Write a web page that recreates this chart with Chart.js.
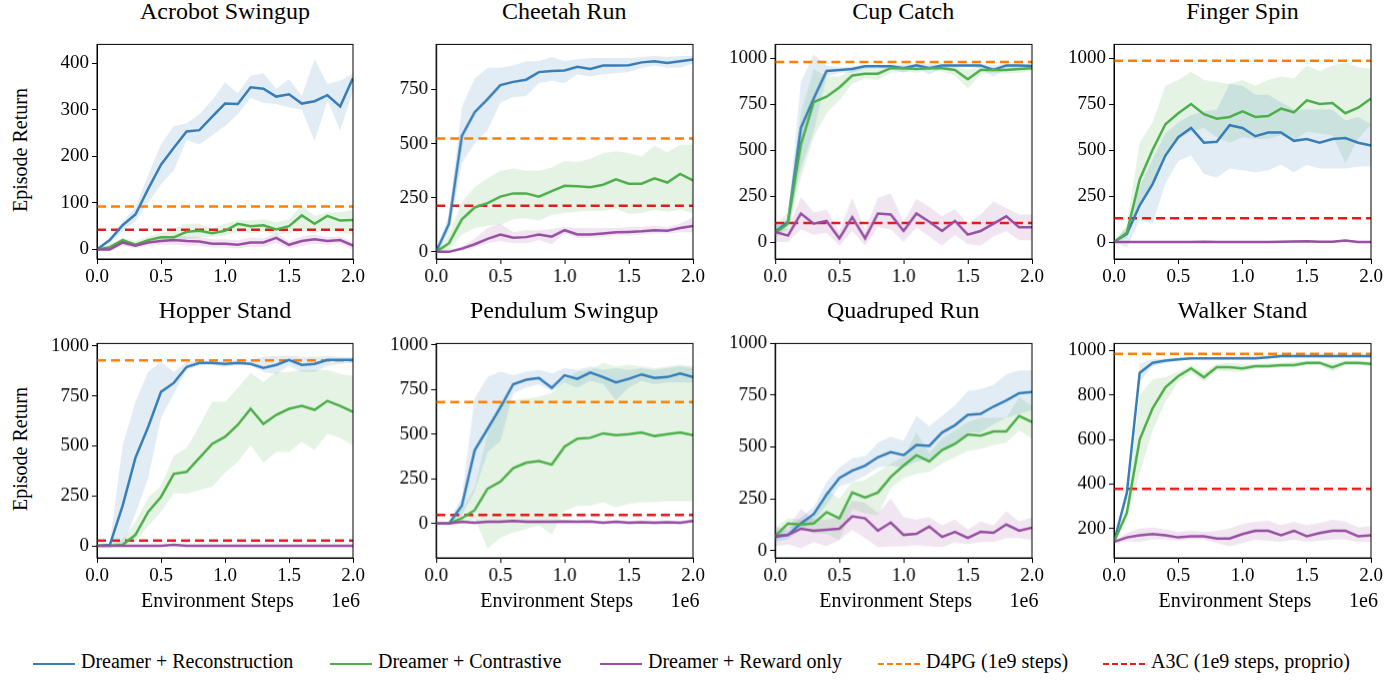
<!DOCTYPE html>
<html><head><meta charset="utf-8">
<script src="https://cdn.jsdelivr.net/npm/chart.js@4"></script>
<style>
body{margin:0;background:#fff;width:1395px;height:682px;position:relative;overflow:hidden;font-family:"Liberation Serif","Times New Roman","DejaVu Serif",serif;}
canvas{position:absolute;}
.t{position:absolute;font-size:24px;text-align:center;white-space:nowrap;transform:translateX(-50%);}
.s{position:absolute;font-size:20px;white-space:nowrap;}
.yl{position:absolute;font-size:20px;white-space:nowrap;transform:translate(-50%,-50%) rotate(-90deg);}
.lg{position:absolute;top:650px;font-size:20px;white-space:nowrap;}
.lg i{position:absolute;top:13px;width:42px;height:0;}
</style></head><body>
<script>
const steps=[0,0.1,0.2,0.3,0.4,0.5,0.6,0.7,0.8,0.9,1.0,1.1,1.2,1.3,1.4,1.5,1.6,1.7,1.8,1.9,2.0];
const xTicks=[0,0.5,1,1.5,2];
const panelTitles=["Acrobot Swingup","Cheetah Run","Cup Catch","Finger Spin","Hopper Stand","Pendulum Swingup","Quadruped Run","Walker Stand"];
const yTicks=[[0,100,200,300,400],[0,250,500,750],[0,250,500,750,1000],[0,250,500,750,1000],[0,250,500,750,1000],[0,250,500,750,1000],[0,250,500,750,1000],[200,400,600,800,1000]];
const yRanges=[[-20.5,440],[-33,958],[-92,1074],[-92,1074],[-60,1012],[-192,1008],[-36,1000],[68,1032]];
const d4pg=[92,523,978,985,928,680,null,985];
const a3c=[42,213,103,130,27,48,null,378];

const acroRec=[0,20,52,75,130,182,218,253,256,285,313,312,348,345,328,333,313,318,331,307,368];
const acroRecLo=[0,15,40,60,100,140,170,235,225,245,265,290,325,315,312,305,300,232,320,255,340];
const acroRecHi=[5,25,60,90,160,225,265,270,290,320,358,335,373,378,345,365,330,408,355,362,378];
const acroCon=[0,5,20,10,20,26,26,38,40,35,40,55,50,52,43,50,73,55,72,62,63];
const acroConLo=[0,2,10,5,12,18,15,22,25,28,30,38,35,38,32,35,40,35,45,35,33];
const acroConHi=[3,10,25,18,28,35,45,55,55,45,55,62,62,65,58,65,95,72,80,80,85];
const acroRew=[0,0,15,8,15,18,20,18,17,12,12,10,15,15,25,10,18,22,18,20,8];
const acroRewLo=[0,-4,8,2,8,10,10,8,8,4,4,2,6,6,14,2,8,12,10,12,0];
const acroRewHi=[2,5,22,14,22,26,30,28,26,22,22,20,25,24,35,18,28,32,26,28,16];

const cheeRec=[0,130,535,645,705,770,785,795,830,835,838,855,845,860,860,862,875,880,872,880,888];
const cheeRecLo=[0,90,410,500,560,690,715,720,780,790,780,820,810,820,825,830,850,860,850,850,870];
const cheeRecHi=[5,170,670,800,850,850,860,880,880,900,880,890,895,895,895,895,900,905,900,905,905];
const cheeCon=[0,40,150,205,225,255,270,270,255,280,305,303,298,310,335,315,315,340,320,360,330];
const cheeConLo=[0,10,80,110,120,125,150,155,145,170,180,185,190,190,200,175,180,195,185,195,180];
const cheeConHi=[5,80,230,300,340,375,385,375,375,390,420,415,430,455,465,455,440,490,460,495,495];
const cheeRew=[0,0,15,35,60,80,65,68,80,70,100,80,80,85,90,92,95,100,98,110,120];
const cheeRewLo=[0,-5,5,20,40,50,40,40,55,35,85,65,65,70,75,75,80,85,85,90,90];
const cheeRewHi=[5,10,25,60,110,130,90,100,100,105,115,110,110,110,110,115,115,120,115,130,160];

const cupRec=[55,110,620,780,930,935,940,955,955,955,945,960,945,960,960,960,960,935,960,960,957];
const cupRecLo=[30,90,400,600,900,920,920,940,945,940,920,950,910,945,950,950,945,900,940,945,945];
const cupRecHi=[80,130,870,1020,960,950,955,965,965,965,965,970,970,970,970,970,970,960,970,970,970];
const cupCon=[50,100,530,760,790,840,905,915,915,945,945,940,945,945,935,885,935,935,935,940,945];
const cupConLo=[20,70,350,570,700,770,860,890,880,920,925,920,935,925,905,835,910,920,915,920,930];
const cupConHi=[100,160,700,940,900,900,935,945,945,960,960,960,960,960,955,935,955,950,955,955,960];
const cupRew=[55,35,155,100,115,20,135,20,155,150,60,155,110,60,115,40,60,100,140,80,80];
const cupRewLo=[0,0,70,40,50,-20,60,-20,80,70,0,80,30,-20,40,-10,-20,30,60,10,10];
const cupRewHi=[110,70,245,160,175,60,240,70,240,265,110,235,190,140,180,100,150,220,185,150,150];

const fingRec=[0,45,200,315,470,570,620,540,545,635,620,575,595,595,550,560,540,560,565,540,525];
const fingRecLo=[0,-30,120,100,320,440,470,370,350,400,390,380,390,420,380,420,400,400,400,410,410];
const fingRecHi=[5,80,300,450,590,650,690,710,720,860,850,800,800,760,720,720,720,720,660,680,640];
const fingCon=[0,50,340,500,640,700,750,695,670,680,710,680,685,725,705,770,750,755,700,730,780];
const fingConLo=[0,20,210,320,480,560,600,620,570,540,570,560,560,580,550,600,590,580,430,560,640];
const fingConHi=[5,90,540,650,850,880,925,880,870,860,880,850,880,900,890,960,930,960,975,950,940];
const fingRew=[0,0,0,0,0,0,0,2,0,0,0,0,0,2,3,5,2,2,8,0,0];
const fingRewLo=[-4,-4,-4,-4,-4,-4,-4,-3,-4,-4,-4,-4,-4,-3,-2,0,-3,-3,2,-4,-4];
const fingRewHi=[4,4,4,4,4,4,4,6,4,4,4,4,4,6,8,10,6,6,14,4,4];

const hopRec=[0,5,200,440,595,770,815,895,915,915,910,915,910,890,905,930,905,910,930,930,930];
const hopRecLo=[0,0,0,160,340,640,760,880,905,905,895,905,905,870,860,900,870,870,900,910,915];
const hopRecHi=[5,10,500,720,870,920,870,920,925,925,925,930,930,945,950,950,945,945,950,945,945];
const hopCon=[0,0,5,55,170,245,360,370,440,510,545,605,685,610,655,685,700,680,725,700,670];
const hopConLo=[0,0,0,20,100,170,265,260,280,295,365,420,505,415,470,470,520,480,560,540,500];
const hopConHi=[0,5,30,120,240,300,450,490,600,720,720,790,865,820,870,870,880,880,880,860,850];
const hopRew=[0,0,0,0,0,0,5,0,0,0,0,0,0,0,0,0,0,0,0,0,0];
const hopRewLo=[0,0,0,0,0,0,0,0,0,0,0,0,0,0,0,0,0,0,0,0,0];
const hopRewHi=[3,3,3,3,3,5,8,4,3,3,3,3,3,3,3,3,3,3,3,3,3];

const penRec=[0,0,100,410,530,650,780,805,815,760,830,810,845,820,790,810,835,815,820,840,820];
const penRecLo=[0,0,50,180,400,460,730,760,780,740,790,760,800,780,690,760,800,780,790,790,790];
const penRecHi=[5,10,150,700,820,850,830,850,860,840,870,860,880,860,870,860,870,860,870,880,870];
const penCon=[0,0,30,75,195,235,310,340,350,330,430,475,480,505,495,500,510,490,500,510,495];
const penConLo=[0,0,0,30,-140,-80,-50,-30,-10,-60,70,100,100,120,90,110,120,120,125,125,125];
const penConHi=[5,10,80,200,500,680,690,700,710,730,810,850,860,900,880,890,880,870,880,890,880];
const penRew=[0,0,10,5,10,10,15,10,10,10,12,10,12,5,10,5,8,5,8,5,15];
const penRewLo=[-3,-5,0,-5,0,0,5,0,-2,0,2,0,2,-5,0,-5,-2,-5,-2,-5,5];
const penRewHi=[3,5,20,15,20,20,25,20,22,20,22,20,22,15,20,15,18,15,18,15,25];

const quadRec=[65,75,130,175,270,350,385,410,450,475,460,510,505,570,605,655,660,695,725,760,765];
const quadRecLo=[40,55,100,140,220,310,330,360,400,410,400,430,440,480,520,570,570,610,640,660,680];
const quadRecHi=[90,100,160,210,330,400,445,455,520,550,530,650,600,650,700,770,780,800,850,870,870];
const quadCon=[70,130,125,130,185,155,280,255,280,355,410,460,430,485,515,560,555,575,575,650,620];
const quadConLo=[40,110,110,80,80,50,200,180,170,300,350,370,380,420,450,480,490,510,520,580,540];
const quadConHi=[110,155,150,160,290,250,330,340,380,420,450,570,470,540,580,620,640,640,640,740,700];
const quadRew=[70,75,105,95,100,105,165,155,95,135,75,80,115,65,90,60,90,85,125,95,110];
const quadRewLo=[20,30,10,40,20,50,100,60,15,20,20,25,20,15,40,30,40,40,60,60,50];
const quadRewHi=[110,110,200,150,150,160,240,230,180,250,160,150,160,120,150,100,140,120,190,140,160];

const walkRec=[140,360,900,945,955,960,965,965,965,965,965,965,970,975,975,975,975,975,975,975,975];
const walkRecLo=[140,330,860,930,945,955,960,960,960,960,960,960,965,970,970,970,970,970,970,970,970];
const walkRecHi=[145,390,940,960,965,970,970,970,970,975,975,975,980,985,985,985,985,985,985,985,985];
const walkCon=[140,270,600,740,835,885,920,880,925,925,920,930,930,935,935,945,945,925,945,945,940];
const walkConLo=[140,240,450,640,770,860,900,860,910,905,905,920,920,925,925,935,935,905,935,935,930];
const walkConHi=[145,300,800,870,880,905,935,905,940,945,940,940,945,945,950,955,955,945,955,955,950];
const walkRew=[140,160,170,175,170,160,165,165,155,155,175,190,190,170,190,165,180,190,190,165,170];
const walkRewLo=[135,140,140,150,150,145,150,150,135,120,135,150,145,140,150,140,145,150,150,140,140];
const walkRewHi=[145,180,200,205,195,185,190,185,190,200,220,230,235,215,230,215,225,240,230,205,210];

const panelSeries=[
 [acroRec,acroRecLo,acroRecHi,acroCon,acroConLo,acroConHi,acroRew,acroRewLo,acroRewHi],
 [cheeRec,cheeRecLo,cheeRecHi,cheeCon,cheeConLo,cheeConHi,cheeRew,cheeRewLo,cheeRewHi],
 [cupRec,cupRecLo,cupRecHi,cupCon,cupConLo,cupConHi,cupRew,cupRewLo,cupRewHi],
 [fingRec,fingRecLo,fingRecHi,fingCon,fingConLo,fingConHi,fingRew,fingRewLo,fingRewHi],
 [hopRec,hopRecLo,hopRecHi,hopCon,hopConLo,hopConHi,hopRew,hopRewLo,hopRewHi],
 [penRec,penRecLo,penRecHi,penCon,penConLo,penConHi,penRew,penRewLo,penRewHi],
 [quadRec,quadRecLo,quadRecHi,quadCon,quadConLo,quadConHi,quadRew,quadRewLo,quadRewHi],
 [walkRec,walkRecLo,walkRecHi,walkCon,walkConLo,walkConHi,walkRew,walkRewLo,walkRewHi]];
const seriesNames=["Dreamer + Reconstruction","Dreamer + Contrastive","Dreamer + Reward only","D4PG (1e9 steps)","A3C (1e9 steps, proprio)"];

const COL=["#377eb8","#4daf4a","#984ea3","#ff7f00","#e41a1c"];
const BAND=["rgba(55,126,184,0.15)","rgba(77,175,74,0.15)","rgba(152,78,163,0.15)"];
const colL=[97,436,775,1114],colR=[353,692.5,1031.5,1371];
const rowT=[40,339.3],rowB=[259,558.3];
const FONT="'Liberation Serif', 'Times New Roman', 'DejaVu Serif', serif";
const PL=60,PT=10,PR=20,PB=40;

const frame={id:'frame',afterDraw(c){const a=c.chartArea,x=c.ctx;x.save();x.strokeStyle='#000';x.lineWidth=1;x.strokeRect(a.left,a.top,a.right-a.left,a.bottom-a.top);x.restore();}};
const pts=a=>a.map((v,i)=>({x:steps[i],y:v}));

function add(html){document.body.insertAdjacentHTML('beforeend',html);}

panelTitles.forEach((title,p)=>{
 const c=p%4,r=Math.floor(p/4);
 const L=colL[c],R=colR[c],T=rowT[r],B=rowB[r];
 const w=R-L+PL+PR,h=B-T+PT+PB;
 const wrap=document.createElement('div');wrap.style.cssText=`position:absolute;left:${L-PL}px;top:${T-PT}px;width:${w}px;height:${h}px;`;
 const cv=document.createElement('canvas');
 cv.style.left='0';cv.style.top='0';cv.style.width=w+'px';cv.style.height=h+'px';
 cv.width=w;cv.height=h;
 document.body.appendChild(wrap);wrap.appendChild(cv);
 add(`<div class="t" style="left:${(L+R)/2}px;top:${T-42}px">${title}</div>`);
 if(r===1){add(`<div class="s" style="left:${(L+R)/2-84}px;top:${B+31}px">Environment Steps</div>`);
   add(`<div class="s" style="left:${R-22}px;top:${B+31}px">1e6</div>`);}
 if(c===0) add(`<div class="yl" style="left:20px;top:${(T+B)/2}px">Episode Return</div>`);
 const S=panelSeries[p];const ds=[];
 for(let k=0;k<3;k++){
   ds.push({data:pts(S[k*3+2]),borderWidth:0,pointRadius:0,fill:'+1',backgroundColor:BAND[k],order:10});
   ds.push({data:pts(S[k*3+1]),borderWidth:0,pointRadius:0,fill:false,order:10});
 }
 [d4pg[p],a3c[p]].forEach((v,j)=>{ if(v!==null) ds.push({data:[{x:0,y:v},{x:2,y:v}],borderColor:COL[3+j],borderWidth:2.5,borderDash:[9,5],pointRadius:0,fill:false,order:2});});
 for(let k=2;k>=0;k--) ds.push({data:pts(S[k*3]),borderColor:COL[k],borderWidth:2.5,pointRadius:0,fill:false,order:1,tension:0});
 const ax={display:true,drawOnChartArea:false,drawTicks:true,tickLength:5,color:'#000'};
 new Chart(cv,{type:'line',data:{datasets:ds},plugins:[frame],
  options:{responsive:false,animation:false,devicePixelRatio:1,layout:{padding:{top:PT,right:PR,left:0,bottom:0}},
   plugins:{legend:{display:false},tooltip:{enabled:false}},
   scales:{
    x:{type:'linear',min:0,max:2,grid:ax,border:{display:true,color:'#000'},
      afterBuildTicks:a=>{a.ticks=xTicks.map(v=>({value:v}));},afterFit:a=>{a.height=PB;},
      ticks:{color:'#000',font:{family:FONT,size:19},padding:2,maxRotation:0,callback:v=>v.toFixed(1)}},
    y:{type:'linear',min:yRanges[p][0],max:yRanges[p][1],grid:ax,border:{display:true,color:'#000'},
      afterBuildTicks:a=>{a.ticks=yTicks[p].map(v=>({value:v}));},afterFit:a=>{a.width=PL;},
      ticks:{color:'#000',font:{family:FONT,size:19},padding:3,callback:v=>String(v)}}}}});
});

const lgX=[33,330,600,878,1103];
seriesNames.forEach((n,i)=>{
 const dash=i>=3?'dashed':'solid';
 add(`<div class="lg" style="left:${lgX[i]}px"><i style="left:0;border-top:2.5px ${dash} ${COL[i]}"></i><span style="margin-left:48px">${n}</span></div>`);
});
</script>
</body></html>
